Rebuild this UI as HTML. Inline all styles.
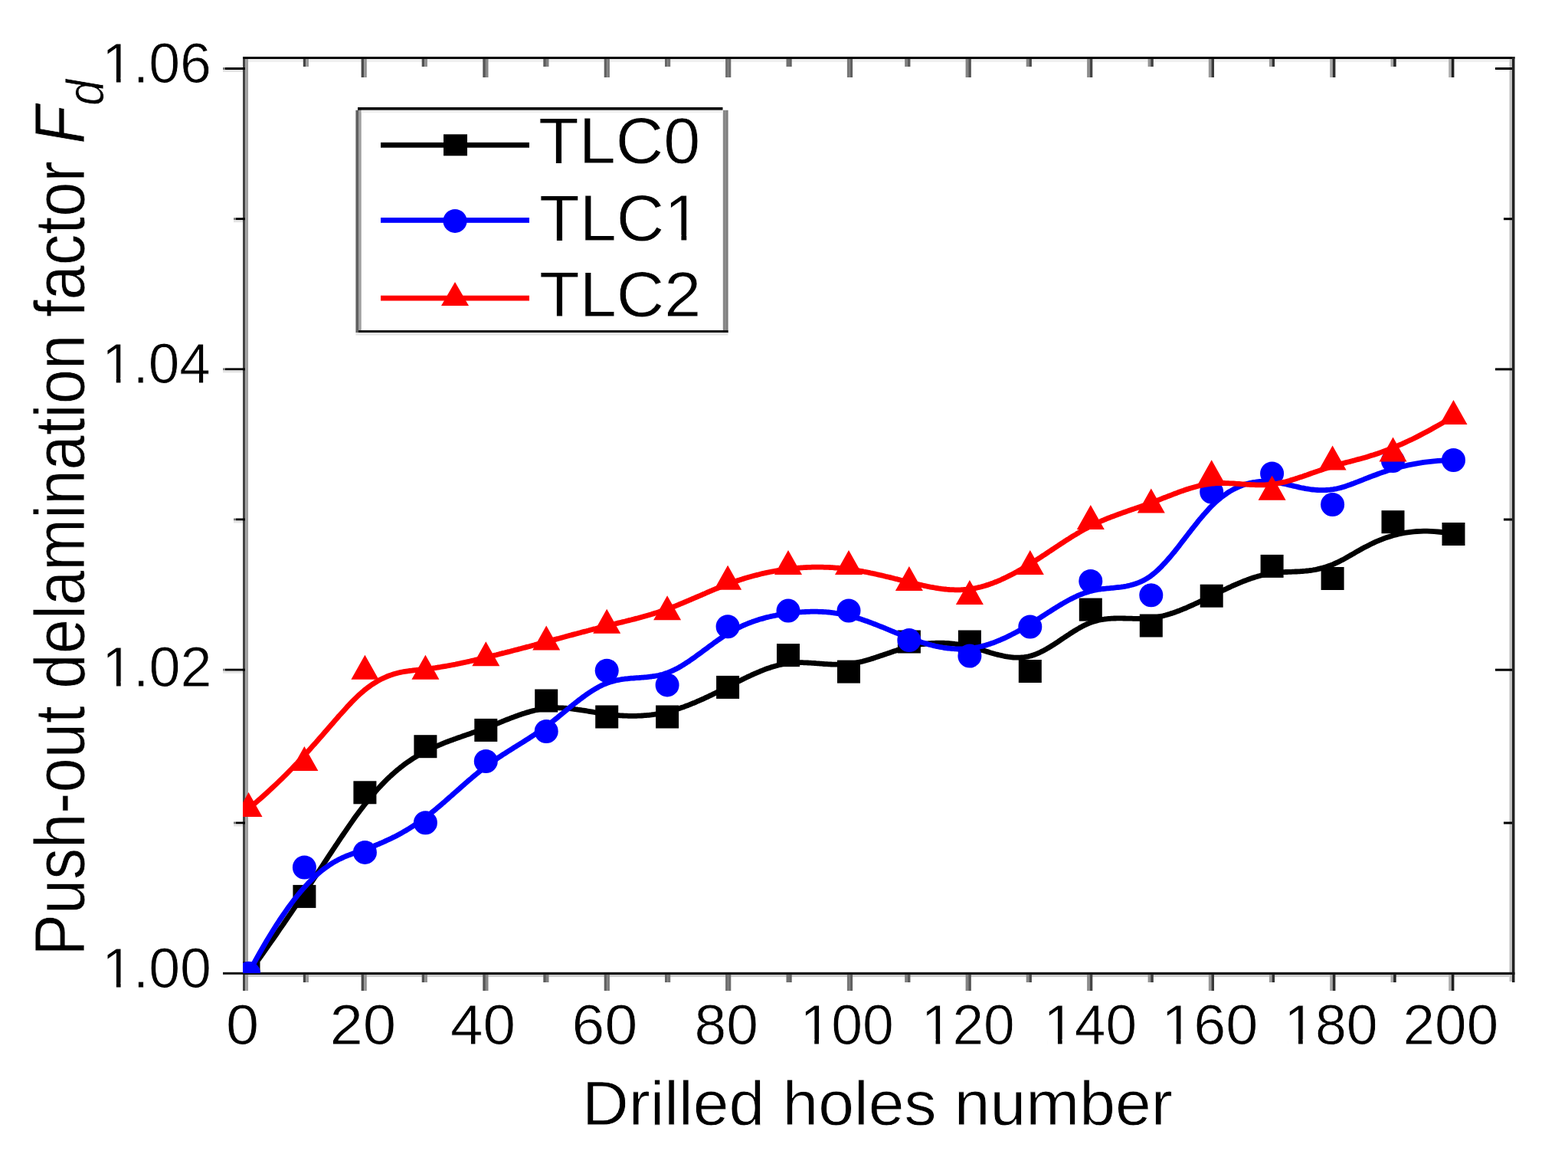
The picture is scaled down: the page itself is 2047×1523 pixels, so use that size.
<!DOCTYPE html>
<html><head><meta charset="utf-8"><title>Push-out delamination factor</title>
<style>
html,body{margin:0;padding:0;background:#fff;}
body{width:2047px;height:1523px;overflow:hidden;}
svg{display:block;}
</style></head>
<body>
<svg width="2047" height="1523" viewBox="0 0 2047 1523">
<rect x="0" y="0" width="2047" height="1523" fill="#fff"/>
<rect x="317" y="74" width="3.2" height="1219" fill="#444"/>
<rect x="320.2" y="77" width="3.8" height="1216" fill="#a0a0a0"/>
<rect x="317" y="74" width="660.5" height="3" fill="#000"/>
<rect x="977" y="74" width="1000.5" height="3" fill="#000"/>
<rect x="324" y="77" width="1646" height="4" fill="#efefef"/>
<rect x="1970.5" y="77" width="3.5" height="1204" fill="#c4c4c4"/>
<rect x="1974" y="74" width="3.5" height="1208" fill="#222"/>
<rect x="317" y="1268.8" width="1660.5" height="3.2" fill="#151515"/>
<rect x="324" y="1272" width="1646.5" height="3" fill="#cdcdcd"/>
<rect x="395.8" y="1272" width="3.6" height="10" fill="#464646"/>
<rect x="399.4" y="1272" width="3.6" height="10" fill="#9a9a9a"/>
<rect x="395.8" y="77" width="3.6" height="10" fill="#464646"/>
<rect x="399.4" y="77" width="3.6" height="10" fill="#9a9a9a"/>
<rect x="471.6" y="1272" width="3.6" height="21" fill="#4b4b4b"/>
<rect x="475.2" y="1272" width="3.6" height="21" fill="#939393"/>
<rect x="471.6" y="77" width="3.6" height="24" fill="#4b4b4b"/>
<rect x="475.2" y="77" width="3.6" height="24" fill="#939393"/>
<rect x="550.7" y="1272" width="3.6" height="10" fill="#515151"/>
<rect x="554.3" y="1272" width="3.6" height="10" fill="#8d8d8d"/>
<rect x="550.7" y="77" width="3.6" height="10" fill="#515151"/>
<rect x="554.3" y="77" width="3.6" height="10" fill="#8d8d8d"/>
<rect x="630.3" y="1272" width="3.6" height="21" fill="#565656"/>
<rect x="633.9" y="1272" width="3.6" height="21" fill="#868686"/>
<rect x="630.3" y="77" width="3.6" height="24" fill="#565656"/>
<rect x="633.9" y="77" width="3.6" height="24" fill="#868686"/>
<rect x="709.3" y="1272" width="3.6" height="10" fill="#5c5c5c"/>
<rect x="712.9" y="1272" width="3.6" height="10" fill="#808080"/>
<rect x="709.3" y="77" width="3.6" height="10" fill="#5c5c5c"/>
<rect x="712.9" y="77" width="3.6" height="10" fill="#808080"/>
<rect x="788.7" y="1272" width="3.6" height="21" fill="#626262"/>
<rect x="792.3" y="1272" width="3.6" height="21" fill="#7a7a7a"/>
<rect x="788.7" y="77" width="3.6" height="24" fill="#626262"/>
<rect x="792.3" y="77" width="3.6" height="24" fill="#7a7a7a"/>
<rect x="868.0" y="1272" width="3.6" height="10" fill="#676767"/>
<rect x="871.6" y="1272" width="3.6" height="10" fill="#737373"/>
<rect x="868.0" y="77" width="3.6" height="10" fill="#676767"/>
<rect x="871.6" y="77" width="3.6" height="10" fill="#737373"/>
<rect x="947.1" y="1272" width="3.6" height="21" fill="#6d6d6d"/>
<rect x="950.7" y="1272" width="3.6" height="21" fill="#6d6d6d"/>
<rect x="947.1" y="77" width="3.6" height="24" fill="#6d6d6d"/>
<rect x="950.7" y="77" width="3.6" height="24" fill="#6d6d6d"/>
<rect x="1026.5" y="1272" width="3.6" height="10" fill="#727272"/>
<rect x="1030.1" y="1272" width="3.6" height="10" fill="#666666"/>
<rect x="1026.5" y="77" width="3.6" height="10" fill="#727272"/>
<rect x="1030.1" y="77" width="3.6" height="10" fill="#666666"/>
<rect x="1105.9" y="1272" width="3.6" height="21" fill="#787878"/>
<rect x="1109.5" y="1272" width="3.6" height="21" fill="#606060"/>
<rect x="1105.9" y="77" width="3.6" height="24" fill="#787878"/>
<rect x="1109.5" y="77" width="3.6" height="24" fill="#606060"/>
<rect x="1181.2" y="1272" width="3.6" height="10" fill="#7e7e7e"/>
<rect x="1184.8" y="1272" width="3.6" height="10" fill="#5a5a5a"/>
<rect x="1181.2" y="77" width="3.6" height="10" fill="#7e7e7e"/>
<rect x="1184.8" y="77" width="3.6" height="10" fill="#5a5a5a"/>
<rect x="1260.6" y="1272" width="3.6" height="21" fill="#838383"/>
<rect x="1264.2" y="1272" width="3.6" height="21" fill="#535353"/>
<rect x="1260.6" y="77" width="3.6" height="24" fill="#838383"/>
<rect x="1264.2" y="77" width="3.6" height="24" fill="#535353"/>
<rect x="1339.7" y="1272" width="3.6" height="10" fill="#898989"/>
<rect x="1343.3" y="1272" width="3.6" height="10" fill="#4d4d4d"/>
<rect x="1339.7" y="77" width="3.6" height="10" fill="#898989"/>
<rect x="1343.3" y="77" width="3.6" height="10" fill="#4d4d4d"/>
<rect x="1419.1" y="1272" width="3.6" height="21" fill="#8e8e8e"/>
<rect x="1422.7" y="1272" width="3.6" height="21" fill="#464646"/>
<rect x="1419.1" y="77" width="3.6" height="24" fill="#8e8e8e"/>
<rect x="1422.7" y="77" width="3.6" height="24" fill="#464646"/>
<rect x="1498.6" y="1272" width="3.6" height="10" fill="#949494"/>
<rect x="1502.2" y="1272" width="3.6" height="10" fill="#404040"/>
<rect x="1498.6" y="77" width="3.6" height="10" fill="#949494"/>
<rect x="1502.2" y="77" width="3.6" height="10" fill="#404040"/>
<rect x="1577.8" y="1272" width="3.6" height="21" fill="#9a9a9a"/>
<rect x="1581.4" y="1272" width="3.6" height="21" fill="#3a3a3a"/>
<rect x="1577.8" y="77" width="3.6" height="24" fill="#9a9a9a"/>
<rect x="1581.4" y="77" width="3.6" height="24" fill="#3a3a3a"/>
<rect x="1656.9" y="1272" width="3.6" height="10" fill="#9f9f9f"/>
<rect x="1660.5" y="1272" width="3.6" height="10" fill="#333333"/>
<rect x="1656.9" y="77" width="3.6" height="10" fill="#9f9f9f"/>
<rect x="1660.5" y="77" width="3.6" height="10" fill="#333333"/>
<rect x="1736.2" y="1272" width="3.6" height="21" fill="#a5a5a5"/>
<rect x="1739.8" y="1272" width="3.6" height="21" fill="#2d2d2d"/>
<rect x="1736.2" y="77" width="3.6" height="24" fill="#a5a5a5"/>
<rect x="1739.8" y="77" width="3.6" height="24" fill="#2d2d2d"/>
<rect x="1815.5" y="1272" width="3.6" height="10" fill="#aaaaaa"/>
<rect x="1819.1" y="1272" width="3.6" height="10" fill="#262626"/>
<rect x="1815.5" y="77" width="3.6" height="10" fill="#aaaaaa"/>
<rect x="1819.1" y="77" width="3.6" height="10" fill="#262626"/>
<rect x="1891.2" y="1272" width="3.6" height="21" fill="#b0b0b0"/>
<rect x="1894.8" y="1272" width="3.6" height="21" fill="#202020"/>
<rect x="1891.2" y="77" width="3.6" height="24" fill="#b0b0b0"/>
<rect x="1894.8" y="77" width="3.6" height="24" fill="#202020"/>
<rect x="291" y="1268.8" width="26" height="3" fill="#111"/>
<rect x="308" y="1072.5" width="12" height="3" fill="#000"/>
<rect x="305" y="1072.5" width="3" height="3" fill="#777"/>
<rect x="305" y="1075.5" width="12" height="3" fill="#e4e4e4"/>
<rect x="1963" y="1072.5" width="11" height="3" fill="#000"/>
<rect x="294" y="872.7" width="26" height="3" fill="#000"/>
<rect x="291" y="872.7" width="3" height="3" fill="#777"/>
<rect x="291" y="875.7" width="26" height="3" fill="#e4e4e4"/>
<rect x="1952" y="872.7" width="22" height="3" fill="#000"/>
<rect x="308" y="676.5" width="12" height="3" fill="#000"/>
<rect x="305" y="676.5" width="3" height="3" fill="#777"/>
<rect x="305" y="679.5" width="12" height="3" fill="#e4e4e4"/>
<rect x="1963" y="676.5" width="11" height="3" fill="#000"/>
<rect x="294" y="480.4" width="26" height="3" fill="#000"/>
<rect x="291" y="480.4" width="3" height="3" fill="#777"/>
<rect x="291" y="483.4" width="26" height="3" fill="#e4e4e4"/>
<rect x="1952" y="480.4" width="22" height="3" fill="#000"/>
<rect x="308" y="284.2" width="12" height="3" fill="#000"/>
<rect x="305" y="284.2" width="3" height="3" fill="#777"/>
<rect x="305" y="287.2" width="12" height="3" fill="#e4e4e4"/>
<rect x="1963" y="284.2" width="11" height="3" fill="#000"/>
<rect x="294" y="88.0" width="26" height="3" fill="#000"/>
<rect x="291" y="88.0" width="3" height="3" fill="#777"/>
<rect x="291" y="91.0" width="26" height="3" fill="#e4e4e4"/>
<rect x="1952" y="88.0" width="22" height="3" fill="#000"/>
<text transform="translate(133.00,1289.40) scale(0.9821,1)" x="0" y="0" font-family="'Liberation Sans', Arial, sans-serif" font-size="74.81" fill="#000" style="font-kerning:none" stroke="#fff" stroke-width="0.8">1.00</text>
<g transform="translate(133.00,1289.40) scale(0.9821,1)" fill="#fff"><rect x="5.11" y="-6.79" width="14.10" height="8.59"/><rect x="25.02" y="-6.79" width="13.70" height="8.59"/></g>
<text transform="translate(133.00,896.20) scale(0.9837,1)" x="0" y="0" font-family="'Liberation Sans', Arial, sans-serif" font-size="74.97" fill="#000" style="font-kerning:none" stroke="#fff" stroke-width="0.8">1.02</text>
<g transform="translate(133.00,896.20) scale(0.9837,1)" fill="#fff"><rect x="5.12" y="-6.80" width="14.13" height="8.60"/><rect x="25.08" y="-6.80" width="13.72" height="8.60"/></g>
<text transform="translate(133.00,499.80) scale(0.9933,1)" x="0" y="0" font-family="'Liberation Sans', Arial, sans-serif" font-size="73.41" fill="#000" style="font-kerning:none" stroke="#fff" stroke-width="0.8">1.04</text>
<g transform="translate(133.00,499.80) scale(0.9933,1)" fill="#fff"><rect x="5.02" y="-6.68" width="13.84" height="8.48"/><rect x="24.55" y="-6.68" width="13.45" height="8.48"/></g>
<text transform="translate(133.00,108.40) scale(0.9821,1)" x="0" y="0" font-family="'Liberation Sans', Arial, sans-serif" font-size="74.81" fill="#000" style="font-kerning:none" stroke="#fff" stroke-width="0.8">1.06</text>
<g transform="translate(133.00,108.40) scale(0.9821,1)" fill="#fff"><rect x="5.11" y="-6.79" width="14.10" height="8.59"/><rect x="25.02" y="-6.79" width="13.70" height="8.59"/></g>
<text transform="translate(295.00,1362.80) scale(1.0365,1)" x="0" y="0" font-family="'Liberation Sans', Arial, sans-serif" font-size="74.81" fill="#000" style="font-kerning:none" stroke="#fff" stroke-width="0.8">0</text>
<text transform="translate(430.40,1362.80) scale(1.0399,1)" x="0" y="0" font-family="'Liberation Sans', Arial, sans-serif" font-size="74.97" fill="#000" style="font-kerning:none" stroke="#fff" stroke-width="0.8">20</text>
<text transform="translate(588.00,1362.80) scale(1.0224,1)" x="0" y="0" font-family="'Liberation Sans', Arial, sans-serif" font-size="74.81" fill="#000" style="font-kerning:none" stroke="#fff" stroke-width="0.8">40</text>
<text transform="translate(746.60,1362.80) scale(1.0291,1)" x="0" y="0" font-family="'Liberation Sans', Arial, sans-serif" font-size="74.81" fill="#000" style="font-kerning:none" stroke="#fff" stroke-width="0.8">60</text>
<text transform="translate(906.60,1362.80) scale(1.0005,1)" x="0" y="0" font-family="'Liberation Sans', Arial, sans-serif" font-size="74.97" fill="#000" style="font-kerning:none" stroke="#fff" stroke-width="0.8">80</text>
<text transform="translate(1044.40,1362.80) scale(0.9808,1)" x="0" y="0" font-family="'Liberation Sans', Arial, sans-serif" font-size="74.81" fill="#000" style="font-kerning:none" stroke="#fff" stroke-width="0.8">100</text>
<g transform="translate(1044.40,1362.80) scale(0.9808,1)" fill="#fff"><rect x="5.11" y="-6.79" width="14.10" height="8.59"/><rect x="25.02" y="-6.79" width="13.70" height="8.59"/></g>
<text transform="translate(1202.80,1362.80) scale(0.9745,1)" x="0" y="0" font-family="'Liberation Sans', Arial, sans-serif" font-size="74.97" fill="#000" style="font-kerning:none" stroke="#fff" stroke-width="0.8">120</text>
<g transform="translate(1202.80,1362.80) scale(0.9745,1)" fill="#fff"><rect x="5.12" y="-6.80" width="14.13" height="8.60"/><rect x="25.08" y="-6.80" width="13.72" height="8.60"/></g>
<text transform="translate(1362.20,1362.80) scale(0.9765,1)" x="0" y="0" font-family="'Liberation Sans', Arial, sans-serif" font-size="74.81" fill="#000" style="font-kerning:none" stroke="#fff" stroke-width="0.8">140</text>
<g transform="translate(1362.20,1362.80) scale(0.9765,1)" fill="#fff"><rect x="5.11" y="-6.79" width="14.10" height="8.59"/><rect x="25.02" y="-6.79" width="13.70" height="8.59"/></g>
<text transform="translate(1516.20,1362.80) scale(1.0111,1)" x="0" y="0" font-family="'Liberation Sans', Arial, sans-serif" font-size="74.81" fill="#000" style="font-kerning:none" stroke="#fff" stroke-width="0.8">160</text>
<g transform="translate(1516.20,1362.80) scale(1.0111,1)" fill="#fff"><rect x="5.11" y="-6.79" width="14.10" height="8.59"/><rect x="25.02" y="-6.79" width="13.70" height="8.59"/></g>
<text transform="translate(1676.20,1362.80) scale(0.9787,1)" x="0" y="0" font-family="'Liberation Sans', Arial, sans-serif" font-size="74.97" fill="#000" style="font-kerning:none" stroke="#fff" stroke-width="0.8">180</text>
<g transform="translate(1676.20,1362.80) scale(0.9787,1)" fill="#fff"><rect x="5.12" y="-6.80" width="14.13" height="8.60"/><rect x="25.08" y="-6.80" width="13.72" height="8.60"/></g>
<text transform="translate(1831.60,1362.80) scale(0.9959,1)" x="0" y="0" font-family="'Liberation Sans', Arial, sans-serif" font-size="74.97" fill="#000" style="font-kerning:none" stroke="#fff" stroke-width="0.8">200</text>
<text transform="translate(760.00,1468.00) scale(1.0253,1)" x="0" y="0" font-family="'Liberation Sans', Arial, sans-serif" font-size="81.98" fill="#000" style="font-kerning:none" stroke="#fff" stroke-width="0.8">Drilled holes number</text>
<text transform="translate(703.00,212.90) scale(1.0164,1)" x="0" y="0" font-family="'Liberation Sans', Arial, sans-serif" font-size="85.04" fill="#000" style="font-kerning:none" stroke="#fff" stroke-width="0.8">TLC0</text>
<text transform="translate(704.00,314.20) scale(1.0164,1)" x="0" y="0" font-family="'Liberation Sans', Arial, sans-serif" font-size="85.04" fill="#000" style="font-kerning:none" stroke="#fff" stroke-width="0.8">TLC1</text>
<g transform="translate(704.00,314.20) scale(1.0164,1)" fill="#fff"><rect x="166.46" y="-7.55" width="15.97" height="9.35"/><rect x="189.15" y="-7.55" width="15.51" height="9.35"/></g>
<text transform="translate(704.00,412.60) scale(1.0254,1)" x="0" y="0" font-family="'Liberation Sans', Arial, sans-serif" font-size="84.29" fill="#000" style="font-kerning:none" stroke="#fff" stroke-width="0.8">TLC2</text>
<text transform="translate(110.25,1247.40) rotate(-90) scale(0.8862,1)" x="0" y="0" font-family="'Liberation Sans', Arial, sans-serif" font-size="91.94" fill="#000" style="font-kerning:none" stroke="#fff" stroke-width="0.8">Push-out delamination factor <tspan font-style="italic">F</tspan><tspan font-style="italic" font-size="69" dy="25">d</tspan></text>
<defs><clipPath id="pc"><rect x="317" y="77" width="1657" height="1193"/></clipPath></defs>
<g clip-path="url(#pc)">
<path d="M324.5,1270.3 L329.4,1263.6 L334.1,1256.9 L338.8,1250.4 L343.4,1244.0 L347.9,1237.6 L352.3,1231.4 L356.6,1225.3 L360.8,1219.2 L364.9,1213.2 L369.0,1207.4 L372.9,1201.6 L376.8,1195.9 L380.6,1190.3 L384.3,1184.9 L388.0,1179.4 L391.5,1174.1 L395.0,1168.9 L398.4,1163.8 L401.8,1158.7 L405.1,1153.8 L408.3,1148.9 L411.5,1144.1 L414.6,1139.4 L417.6,1134.8 L420.6,1130.3 L423.5,1125.8 L426.4,1121.5 L429.2,1117.2 L432.0,1113.0 L434.7,1108.9 L437.4,1104.8 L440.1,1100.9 L442.6,1097.0 L445.2,1093.2 L447.7,1089.5 L450.2,1085.9 L452.6,1082.3 L455.0,1078.8 L457.4,1075.4 L459.7,1072.1 L462.0,1068.8 L464.3,1065.6 L466.6,1062.5 L468.8,1059.5 L471.1,1056.5 L473.3,1053.7 L475.4,1050.8 L477.6,1048.1 L479.7,1045.4 L481.9,1042.8 L484.0,1040.3 L486.1,1037.8 L488.1,1035.4 L490.2,1033.0 L492.2,1030.7 L494.3,1028.5 L496.3,1026.3 L498.3,1024.2 L500.3,1022.1 L502.2,1020.1 L504.2,1018.1 L506.1,1016.2 L508.1,1014.4 L510.0,1012.6 L511.9,1010.9 L513.8,1009.2 L515.7,1007.5 L517.6,1005.9 L519.4,1004.3 L521.3,1002.8 L523.1,1001.3 L525.0,999.9 L526.8,998.5 L528.7,997.1 L530.5,995.8 L532.3,994.5 L534.1,993.3 L535.9,992.1 L537.7,990.9 L539.5,989.7 L541.3,988.6 L543.1,987.5 L544.9,986.4 L546.7,985.4 L548.4,984.4 L550.2,983.4 L552.0,982.4 L553.8,981.5 L555.5,980.6 L557.3,979.7 L559.1,978.8 L560.9,977.9 L562.7,977.1 L564.4,976.2 L566.2,975.4 L568.0,974.6 L569.8,973.8 L571.5,973.1 L573.3,972.3 L575.1,971.6 L576.9,970.8 L578.6,970.1 L580.4,969.4 L582.2,968.7 L584.0,968.0 L585.7,967.3 L587.5,966.7 L589.3,966.0 L591.1,965.4 L592.9,964.7 L594.6,964.1 L596.4,963.4 L598.2,962.8 L600.0,962.2 L601.7,961.6 L603.5,960.9 L605.3,960.3 L607.1,959.7 L608.8,959.1 L610.6,958.5 L612.4,957.9 L614.2,957.3 L615.9,956.6 L617.7,956.0 L619.5,955.4 L621.3,954.8 L623.0,954.2 L624.8,953.5 L626.6,952.9 L628.4,952.2 L630.2,951.6 L631.9,950.9 L633.7,950.3 L635.5,949.6 L637.3,948.9 L639.0,948.2 L640.8,947.5 L642.6,946.8 L644.4,946.1 L646.1,945.4 L647.9,944.7 L649.7,944.0 L651.5,943.3 L653.2,942.6 L655.0,941.9 L656.8,941.1 L658.6,940.4 L660.4,939.7 L662.1,939.0 L663.9,938.3 L665.7,937.6 L667.5,936.9 L669.2,936.3 L671.0,935.6 L672.8,934.9 L674.6,934.3 L676.3,933.7 L678.1,933.0 L679.9,932.4 L681.7,931.8 L683.4,931.2 L685.2,930.7 L687.0,930.1 L688.8,929.6 L690.6,929.1 L692.3,928.6 L694.1,928.1 L695.9,927.6 L697.7,927.2 L699.4,926.8 L701.2,926.4 L703.0,926.0 L704.8,925.7 L706.5,925.3 L708.3,925.1 L710.1,924.8 L711.9,924.6 L713.6,924.4 L715.4,924.2 L717.2,924.0 L719.0,923.9 L720.8,923.8 L722.5,923.8 L724.3,923.7 L726.1,923.7 L727.9,923.7 L729.6,923.8 L731.4,923.8 L733.2,923.9 L735.0,924.0 L736.7,924.1 L738.5,924.2 L740.3,924.4 L742.1,924.5 L743.8,924.7 L745.6,924.9 L747.4,925.1 L749.2,925.3 L750.9,925.6 L752.7,925.8 L754.5,926.1 L756.3,926.3 L758.1,926.6 L759.8,926.9 L761.6,927.1 L763.4,927.4 L765.2,927.7 L766.9,928.0 L768.7,928.3 L770.5,928.6 L772.3,928.9 L774.0,929.2 L775.8,929.5 L777.6,929.8 L779.4,930.1 L781.1,930.4 L782.9,930.6 L784.7,930.9 L786.5,931.2 L788.3,931.5 L790.0,931.7 L791.8,931.9 L793.6,932.2 L795.4,932.4 L797.1,932.6 L798.9,932.8 L800.7,933.0 L802.5,933.2 L804.2,933.3 L806.0,933.5 L807.8,933.6 L809.6,933.8 L811.3,933.9 L813.1,934.0 L814.9,934.1 L816.7,934.2 L818.5,934.2 L820.2,934.3 L822.0,934.3 L823.8,934.3 L825.6,934.3 L827.3,934.3 L829.1,934.3 L830.9,934.3 L832.7,934.2 L834.4,934.2 L836.2,934.1 L838.0,934.0 L839.8,933.9 L841.5,933.7 L843.3,933.6 L845.1,933.4 L846.9,933.3 L848.6,933.1 L850.4,932.9 L852.2,932.6 L854.0,932.4 L855.8,932.1 L857.5,931.8 L859.3,931.5 L861.1,931.2 L862.9,930.9 L864.6,930.5 L866.4,930.2 L868.2,929.8 L870.0,929.4 L871.7,928.9 L873.5,928.5 L875.3,928.0 L877.1,927.5 L878.8,927.0 L880.6,926.5 L882.4,925.9 L884.2,925.4 L886.0,924.8 L887.7,924.2 L889.5,923.6 L891.3,923.0 L893.1,922.4 L894.8,921.7 L896.6,921.0 L898.4,920.4 L900.2,919.7 L901.9,919.0 L903.7,918.2 L905.5,917.5 L907.3,916.8 L909.0,916.0 L910.8,915.2 L912.6,914.5 L914.4,913.7 L916.2,912.9 L917.9,912.1 L919.7,911.3 L921.5,910.4 L923.3,909.6 L925.0,908.8 L926.8,907.9 L928.6,907.1 L930.4,906.2 L932.1,905.4 L933.9,904.5 L935.7,903.6 L937.5,902.7 L939.2,901.8 L941.0,901.0 L942.8,900.1 L944.6,899.2 L946.3,898.3 L948.1,897.4 L949.9,896.5 L951.7,895.6 L953.5,894.7 L955.2,893.7 L957.0,892.8 L958.8,891.9 L960.6,891.0 L962.3,890.1 L964.1,889.2 L965.9,888.4 L967.7,887.5 L969.4,886.6 L971.2,885.7 L973.0,884.8 L974.8,884.0 L976.5,883.1 L978.3,882.3 L980.1,881.5 L981.9,880.6 L983.7,879.8 L985.4,879.0 L987.2,878.3 L989.0,877.5 L990.8,876.8 L992.5,876.0 L994.3,875.3 L996.1,874.6 L997.9,873.9 L999.6,873.2 L1001.4,872.6 L1003.2,872.0 L1005.0,871.4 L1006.7,870.8 L1008.5,870.2 L1010.3,869.7 L1012.1,869.2 L1013.9,868.7 L1015.6,868.2 L1017.4,867.8 L1019.2,867.4 L1021.0,867.0 L1022.7,866.7 L1024.5,866.3 L1026.3,866.0 L1028.1,865.8 L1029.8,865.6 L1031.6,865.4 L1033.4,865.2 L1035.2,865.0 L1036.9,864.9 L1038.7,864.8 L1040.5,864.8 L1042.3,864.7 L1044.1,864.7 L1045.8,864.7 L1047.6,864.7 L1049.4,864.8 L1051.2,864.8 L1052.9,864.9 L1054.7,865.0 L1056.5,865.1 L1058.3,865.2 L1060.0,865.3 L1061.8,865.4 L1063.6,865.5 L1065.4,865.7 L1067.1,865.8 L1068.9,865.9 L1070.7,866.1 L1072.5,866.2 L1074.2,866.3 L1076.0,866.5 L1077.8,866.6 L1079.6,866.7 L1081.4,866.8 L1083.1,866.9 L1084.9,867.0 L1086.7,867.1 L1088.5,867.1 L1090.2,867.2 L1092.0,867.2 L1093.8,867.2 L1095.6,867.2 L1097.3,867.2 L1099.1,867.1 L1100.9,867.1 L1102.7,867.0 L1104.4,866.8 L1106.2,866.7 L1108.0,866.5 L1109.8,866.3 L1111.6,866.0 L1113.3,865.8 L1115.1,865.5 L1116.9,865.2 L1118.7,864.8 L1120.4,864.4 L1122.2,864.0 L1124.0,863.6 L1125.8,863.2 L1127.5,862.7 L1129.3,862.2 L1131.1,861.7 L1132.9,861.2 L1134.6,860.7 L1136.4,860.2 L1138.2,859.6 L1140.0,859.1 L1141.8,858.5 L1143.5,857.9 L1145.3,857.3 L1147.1,856.7 L1148.9,856.1 L1150.6,855.5 L1152.4,854.9 L1154.2,854.3 L1156.0,853.7 L1157.7,853.1 L1159.5,852.5 L1161.3,851.9 L1163.1,851.3 L1164.8,850.7 L1166.6,850.1 L1168.4,849.5 L1170.2,848.9 L1171.9,848.3 L1173.7,847.8 L1175.5,847.2 L1177.3,846.7 L1179.1,846.2 L1180.8,845.6 L1182.6,845.1 L1184.4,844.7 L1186.2,844.2 L1187.9,843.8 L1189.7,843.4 L1191.5,843.0 L1193.3,842.6 L1195.0,842.2 L1196.8,841.9 L1198.6,841.6 L1200.4,841.3 L1202.1,841.0 L1203.9,840.7 L1205.7,840.5 L1207.5,840.3 L1209.3,840.1 L1211.0,839.9 L1212.8,839.7 L1214.6,839.6 L1216.4,839.4 L1218.1,839.3 L1219.9,839.3 L1221.7,839.2 L1223.5,839.1 L1225.2,839.1 L1227.0,839.1 L1228.8,839.1 L1230.6,839.2 L1232.3,839.2 L1234.1,839.3 L1235.9,839.4 L1237.7,839.5 L1239.5,839.6 L1241.2,839.8 L1243.0,840.0 L1244.8,840.1 L1246.6,840.4 L1248.3,840.6 L1250.1,840.8 L1251.9,841.1 L1253.7,841.4 L1255.4,841.7 L1257.2,842.0 L1259.0,842.4 L1260.8,842.7 L1262.5,843.1 L1264.3,843.5 L1266.1,844.0 L1267.9,844.4 L1269.7,844.9 L1271.4,845.3 L1273.2,845.8 L1275.0,846.3 L1276.8,846.9 L1278.5,847.4 L1280.3,847.9 L1282.1,848.4 L1283.9,849.0 L1285.6,849.5 L1287.4,850.1 L1289.2,850.6 L1291.0,851.1 L1292.7,851.7 L1294.5,852.2 L1296.3,852.7 L1298.1,853.2 L1299.8,853.7 L1301.6,854.1 L1303.4,854.6 L1305.2,855.0 L1307.0,855.4 L1308.7,855.8 L1310.5,856.2 L1312.3,856.6 L1314.1,856.9 L1315.8,857.2 L1317.6,857.4 L1319.4,857.6 L1321.2,857.8 L1322.9,858.0 L1324.7,858.1 L1326.5,858.2 L1328.3,858.2 L1330.0,858.2 L1331.8,858.1 L1333.6,858.0 L1335.4,857.9 L1337.2,857.7 L1338.9,857.4 L1340.7,857.1 L1342.5,856.8 L1344.3,856.3 L1346.0,855.9 L1347.8,855.3 L1349.6,854.7 L1351.4,854.1 L1353.1,853.4 L1354.9,852.6 L1356.7,851.8 L1358.5,851.0 L1360.2,850.1 L1362.0,849.2 L1363.8,848.2 L1365.6,847.3 L1367.4,846.2 L1369.1,845.2 L1370.9,844.1 L1372.7,843.0 L1374.5,841.9 L1376.2,840.8 L1378.0,839.6 L1379.8,838.5 L1381.6,837.3 L1383.3,836.1 L1385.1,834.9 L1386.9,833.7 L1388.7,832.5 L1390.4,831.3 L1392.2,830.1 L1394.0,829.0 L1395.8,827.8 L1397.5,826.6 L1399.3,825.5 L1401.1,824.4 L1402.9,823.2 L1404.7,822.2 L1406.4,821.1 L1408.2,820.1 L1410.0,819.0 L1411.8,818.1 L1413.5,817.1 L1415.3,816.2 L1417.1,815.4 L1418.9,814.5 L1420.6,813.8 L1422.4,813.0 L1424.2,812.3 L1426.0,811.7 L1427.7,811.1 L1429.5,810.6 L1431.3,810.1 L1433.1,809.6 L1434.9,809.2 L1436.6,808.9 L1438.4,808.5 L1440.2,808.3 L1442.0,808.0 L1443.7,807.8 L1445.5,807.6 L1447.3,807.4 L1449.1,807.3 L1450.8,807.2 L1452.6,807.1 L1454.4,807.0 L1456.2,807.0 L1457.9,806.9 L1459.7,806.9 L1461.5,806.9 L1463.3,806.9 L1465.1,806.9 L1466.8,807.0 L1468.6,807.0 L1470.4,807.1 L1472.2,807.1 L1473.9,807.1 L1475.7,807.2 L1477.5,807.2 L1479.3,807.3 L1481.0,807.3 L1482.8,807.3 L1484.6,807.4 L1486.4,807.4 L1488.1,807.4 L1489.9,807.3 L1491.7,807.3 L1493.5,807.2 L1495.2,807.2 L1497.0,807.1 L1498.8,806.9 L1500.6,806.8 L1502.4,806.6 L1504.1,806.4 L1505.9,806.1 L1507.7,805.9 L1509.5,805.6 L1511.2,805.3 L1513.0,804.9 L1514.8,804.5 L1516.6,804.1 L1518.3,803.7 L1520.1,803.2 L1521.9,802.8 L1523.7,802.3 L1525.4,801.7 L1527.2,801.2 L1529.0,800.6 L1530.8,800.1 L1532.6,799.5 L1534.3,798.8 L1536.1,798.2 L1537.9,797.5 L1539.7,796.9 L1541.4,796.2 L1543.2,795.5 L1545.0,794.7 L1546.8,794.0 L1548.5,793.3 L1550.3,792.5 L1552.1,791.7 L1553.9,790.9 L1555.6,790.1 L1557.4,789.3 L1559.2,788.5 L1561.0,787.7 L1562.8,786.9 L1564.5,786.0 L1566.3,785.2 L1568.1,784.3 L1569.9,783.5 L1571.6,782.6 L1573.4,781.8 L1575.2,780.9 L1577.0,780.0 L1578.7,779.2 L1580.5,778.3 L1582.3,777.4 L1584.1,776.5 L1585.8,775.7 L1587.6,774.8 L1589.4,773.9 L1591.2,773.1 L1593.0,772.2 L1594.7,771.3 L1596.5,770.5 L1598.3,769.6 L1600.1,768.8 L1601.8,768.0 L1603.6,767.1 L1605.4,766.3 L1607.2,765.5 L1608.9,764.7 L1610.7,763.9 L1612.5,763.1 L1614.3,762.3 L1616.0,761.6 L1617.8,760.8 L1619.6,760.1 L1621.4,759.4 L1623.1,758.7 L1624.9,758.0 L1626.7,757.3 L1628.5,756.6 L1630.3,756.0 L1632.0,755.3 L1633.8,754.7 L1635.6,754.1 L1637.4,753.6 L1639.1,753.0 L1640.9,752.5 L1642.7,751.9 L1644.5,751.5 L1646.2,751.0 L1648.0,750.5 L1649.8,750.1 L1651.6,749.7 L1653.3,749.3 L1655.1,749.0 L1656.9,748.7 L1658.7,748.4 L1660.5,748.1 L1662.2,747.8 L1664.0,747.6 L1665.8,747.4 L1667.6,747.2 L1669.3,747.1 L1671.1,747.0 L1672.9,746.8 L1674.7,746.7 L1676.5,746.6 L1678.3,746.5 L1680.1,746.5 L1681.9,746.4 L1683.7,746.3 L1685.5,746.3 L1687.3,746.2 L1689.2,746.1 L1691.0,746.0 L1692.9,746.0 L1694.7,745.9 L1696.6,745.8 L1698.4,745.6 L1700.3,745.5 L1702.2,745.3 L1704.1,745.2 L1706.0,745.0 L1707.9,744.8 L1709.9,744.5 L1711.8,744.3 L1713.8,744.0 L1715.7,743.6 L1717.7,743.3 L1719.7,742.9 L1721.7,742.4 L1723.8,741.9 L1725.8,741.4 L1727.9,740.8 L1729.9,740.2 L1732.0,739.6 L1734.1,738.8 L1736.3,738.1 L1738.4,737.3 L1740.6,736.4 L1742.7,735.4 L1744.9,734.4 L1747.2,733.4 L1749.4,732.3 L1751.7,731.1 L1754.0,729.9 L1756.3,728.6 L1758.6,727.3 L1761.0,725.9 L1763.4,724.5 L1765.9,723.1 L1768.4,721.7 L1770.9,720.2 L1773.5,718.7 L1776.1,717.3 L1778.7,715.8 L1781.5,714.3 L1784.2,712.9 L1787.1,711.4 L1789.9,710.0 L1792.9,708.6 L1795.9,707.2 L1799.0,705.9 L1802.1,704.6 L1805.3,703.3 L1808.6,702.1 L1811.9,701.0 L1815.3,699.9 L1818.8,698.8 L1822.4,697.9 L1826.0,697.0 L1829.8,696.2 L1833.6,695.4 L1837.5,694.8 L1841.5,694.3 L1845.6,693.8 L1849.8,693.5 L1854.1,693.3 L1858.5,693.2 L1863.0,693.2 L1867.6,693.3 L1872.3,693.6 L1877.1,694.0 L1882.0,694.5 L1887.1,695.2 L1892.2,696.0 L1897.5,697.0" fill="none" stroke="#000" stroke-width="6.8" stroke-linejoin="round"/>
<rect x="309.5" y="1255.3" width="30" height="30" fill="#000"/>
<rect x="382.4" y="1154.9" width="30" height="30" fill="#000"/>
<rect x="461.4" y="1019.3" width="30" height="30" fill="#000"/>
<rect x="540.4" y="959.2" width="30" height="30" fill="#000"/>
<rect x="619.3" y="937.9" width="30" height="30" fill="#000"/>
<rect x="698.2" y="899.5" width="30" height="30" fill="#000"/>
<rect x="777.2" y="920.5" width="30" height="30" fill="#000"/>
<rect x="856.1" y="920.5" width="30" height="30" fill="#000"/>
<rect x="935.1" y="881.9" width="30" height="30" fill="#000"/>
<rect x="1014.0" y="840.1" width="30" height="30" fill="#000"/>
<rect x="1093.0" y="861.6" width="30" height="30" fill="#000"/>
<rect x="1171.9" y="822.5" width="30" height="30" fill="#000"/>
<rect x="1250.9" y="822.5" width="30" height="30" fill="#000"/>
<rect x="1329.8" y="861.0" width="30" height="30" fill="#000"/>
<rect x="1408.8" y="780.6" width="30" height="30" fill="#000"/>
<rect x="1487.8" y="801.5" width="30" height="30" fill="#000"/>
<rect x="1566.7" y="762.7" width="30" height="30" fill="#000"/>
<rect x="1645.6" y="723.9" width="30" height="30" fill="#000"/>
<rect x="1724.6" y="740.0" width="30" height="30" fill="#000"/>
<rect x="1803.5" y="666.2" width="30" height="30" fill="#000"/>
<rect x="1882.5" y="682.0" width="30" height="30" fill="#000"/>
<path d="M324.5,1270.3 L329.4,1261.2 L334.1,1252.4 L338.8,1244.0 L343.4,1236.0 L347.9,1228.3 L352.3,1221.0 L356.6,1214.0 L360.8,1207.3 L364.9,1201.0 L369.0,1195.0 L372.9,1189.3 L376.8,1183.8 L380.6,1178.7 L384.3,1173.8 L388.0,1169.2 L391.5,1164.8 L395.0,1160.7 L398.4,1156.9 L401.8,1153.2 L405.1,1149.8 L408.3,1146.6 L411.5,1143.6 L414.6,1140.8 L417.6,1138.2 L420.6,1135.7 L423.5,1133.5 L426.4,1131.4 L429.2,1129.4 L432.0,1127.6 L434.7,1125.9 L437.4,1124.3 L440.1,1122.9 L442.6,1121.5 L445.2,1120.3 L447.7,1119.1 L450.2,1118.0 L452.6,1117.0 L455.0,1116.1 L457.4,1115.2 L459.7,1114.3 L462.0,1113.5 L464.3,1112.7 L466.6,1112.0 L468.8,1111.2 L471.1,1110.4 L473.3,1109.7 L475.4,1108.9 L477.6,1108.1 L479.7,1107.3 L481.9,1106.5 L484.0,1105.7 L486.1,1104.9 L488.1,1104.1 L490.2,1103.3 L492.2,1102.4 L494.3,1101.6 L496.3,1100.7 L498.3,1099.9 L500.3,1099.0 L502.2,1098.1 L504.2,1097.2 L506.1,1096.3 L508.1,1095.4 L510.0,1094.5 L511.9,1093.6 L513.8,1092.6 L515.7,1091.7 L517.6,1090.7 L519.4,1089.7 L521.3,1088.7 L523.1,1087.7 L525.0,1086.7 L526.8,1085.6 L528.7,1084.6 L530.5,1083.5 L532.3,1082.4 L534.1,1081.3 L535.9,1080.2 L537.7,1079.0 L539.5,1077.9 L541.3,1076.7 L543.1,1075.5 L544.9,1074.3 L546.7,1073.1 L548.4,1071.8 L550.2,1070.6 L552.0,1069.3 L553.8,1068.0 L555.5,1066.6 L557.3,1065.3 L559.1,1063.9 L560.9,1062.5 L562.7,1061.1 L564.4,1059.7 L566.2,1058.3 L568.0,1056.8 L569.8,1055.3 L571.5,1053.8 L573.3,1052.3 L575.1,1050.8 L576.9,1049.3 L578.6,1047.8 L580.4,1046.3 L582.2,1044.7 L584.0,1043.2 L585.7,1041.6 L587.5,1040.0 L589.3,1038.5 L591.1,1036.9 L592.9,1035.3 L594.6,1033.8 L596.4,1032.2 L598.2,1030.6 L600.0,1029.1 L601.7,1027.5 L603.5,1025.9 L605.3,1024.4 L607.1,1022.8 L608.8,1021.3 L610.6,1019.7 L612.4,1018.2 L614.2,1016.7 L615.9,1015.2 L617.7,1013.7 L619.5,1012.2 L621.3,1010.7 L623.0,1009.2 L624.8,1007.8 L626.6,1006.4 L628.4,1004.9 L630.2,1003.6 L631.9,1002.2 L633.7,1000.8 L635.5,999.5 L637.3,998.2 L639.0,996.9 L640.8,995.6 L642.6,994.3 L644.4,993.1 L646.1,991.8 L647.9,990.6 L649.7,989.4 L651.5,988.2 L653.2,987.1 L655.0,985.9 L656.8,984.7 L658.6,983.6 L660.4,982.5 L662.1,981.3 L663.9,980.2 L665.7,979.1 L667.5,978.0 L669.2,976.9 L671.0,975.7 L672.8,974.6 L674.6,973.5 L676.3,972.4 L678.1,971.3 L679.9,970.2 L681.7,969.1 L683.4,968.0 L685.2,966.9 L687.0,965.7 L688.8,964.6 L690.6,963.5 L692.3,962.3 L694.1,961.1 L695.9,960.0 L697.7,958.8 L699.4,957.6 L701.2,956.4 L703.0,955.2 L704.8,953.9 L706.5,952.7 L708.3,951.4 L710.1,950.1 L711.9,948.8 L713.6,947.5 L715.4,946.2 L717.2,944.8 L719.0,943.4 L720.8,942.0 L722.5,940.6 L724.3,939.2 L726.1,937.8 L727.9,936.3 L729.6,934.9 L731.4,933.4 L733.2,932.0 L735.0,930.5 L736.7,929.0 L738.5,927.6 L740.3,926.1 L742.1,924.7 L743.8,923.2 L745.6,921.8 L747.4,920.3 L749.2,918.9 L750.9,917.5 L752.7,916.1 L754.5,914.7 L756.3,913.3 L758.1,912.0 L759.8,910.7 L761.6,909.3 L763.4,908.1 L765.2,906.8 L766.9,905.5 L768.7,904.3 L770.5,903.2 L772.3,902.0 L774.0,900.9 L775.8,899.8 L777.6,898.7 L779.4,897.7 L781.1,896.7 L782.9,895.8 L784.7,894.9 L786.5,894.0 L788.3,893.2 L790.0,892.5 L791.8,891.8 L793.6,891.1 L795.4,890.5 L797.1,889.9 L798.9,889.4 L800.7,888.9 L802.5,888.4 L804.2,888.0 L806.0,887.6 L807.8,887.3 L809.6,887.0 L811.3,886.7 L813.1,886.4 L814.9,886.2 L816.7,885.9 L818.5,885.8 L820.2,885.6 L822.0,885.4 L823.8,885.2 L825.6,885.1 L827.3,885.0 L829.1,884.8 L830.9,884.7 L832.7,884.6 L834.4,884.5 L836.2,884.3 L838.0,884.2 L839.8,884.1 L841.5,883.9 L843.3,883.8 L845.1,883.6 L846.9,883.4 L848.6,883.2 L850.4,883.0 L852.2,882.7 L854.0,882.5 L855.8,882.2 L857.5,881.8 L859.3,881.5 L861.1,881.1 L862.9,880.6 L864.6,880.2 L866.4,879.7 L868.2,879.1 L870.0,878.5 L871.7,877.9 L873.5,877.2 L875.3,876.5 L877.1,875.7 L878.8,874.9 L880.6,874.0 L882.4,873.1 L884.2,872.2 L886.0,871.2 L887.7,870.2 L889.5,869.2 L891.3,868.1 L893.1,867.0 L894.8,865.9 L896.6,864.7 L898.4,863.6 L900.2,862.4 L901.9,861.1 L903.7,859.9 L905.5,858.7 L907.3,857.4 L909.0,856.1 L910.8,854.8 L912.6,853.5 L914.4,852.2 L916.2,850.9 L917.9,849.6 L919.7,848.3 L921.5,847.0 L923.3,845.7 L925.0,844.3 L926.8,843.0 L928.6,841.7 L930.4,840.4 L932.1,839.1 L933.9,837.8 L935.7,836.6 L937.5,835.3 L939.2,834.1 L941.0,832.9 L942.8,831.7 L944.6,830.5 L946.3,829.3 L948.1,828.2 L949.9,827.1 L951.7,826.0 L953.5,825.0 L955.2,823.9 L957.0,822.9 L958.8,822.0 L960.6,821.0 L962.3,820.1 L964.1,819.2 L965.9,818.4 L967.7,817.5 L969.4,816.7 L971.2,815.9 L973.0,815.1 L974.8,814.4 L976.5,813.7 L978.3,812.9 L980.1,812.3 L981.9,811.6 L983.7,811.0 L985.4,810.4 L987.2,809.8 L989.0,809.2 L990.8,808.6 L992.5,808.1 L994.3,807.6 L996.1,807.1 L997.9,806.6 L999.6,806.1 L1001.4,805.6 L1003.2,805.2 L1005.0,804.8 L1006.7,804.4 L1008.5,804.0 L1010.3,803.6 L1012.1,803.3 L1013.9,802.9 L1015.6,802.6 L1017.4,802.3 L1019.2,802.0 L1021.0,801.7 L1022.7,801.4 L1024.5,801.1 L1026.3,800.9 L1028.1,800.6 L1029.8,800.4 L1031.6,800.2 L1033.4,800.0 L1035.2,799.8 L1036.9,799.6 L1038.7,799.4 L1040.5,799.2 L1042.3,799.1 L1044.1,798.9 L1045.8,798.8 L1047.6,798.7 L1049.4,798.6 L1051.2,798.5 L1052.9,798.4 L1054.7,798.3 L1056.5,798.3 L1058.3,798.2 L1060.0,798.2 L1061.8,798.2 L1063.6,798.2 L1065.4,798.2 L1067.1,798.2 L1068.9,798.3 L1070.7,798.4 L1072.5,798.4 L1074.2,798.5 L1076.0,798.6 L1077.8,798.7 L1079.6,798.9 L1081.4,799.0 L1083.1,799.2 L1084.9,799.4 L1086.7,799.6 L1088.5,799.8 L1090.2,800.1 L1092.0,800.3 L1093.8,800.6 L1095.6,800.9 L1097.3,801.2 L1099.1,801.5 L1100.9,801.9 L1102.7,802.2 L1104.4,802.6 L1106.2,803.0 L1108.0,803.4 L1109.8,803.9 L1111.6,804.4 L1113.3,804.8 L1115.1,805.3 L1116.9,805.8 L1118.7,806.4 L1120.4,806.9 L1122.2,807.5 L1124.0,808.1 L1125.8,808.7 L1127.5,809.3 L1129.3,809.9 L1131.1,810.5 L1132.9,811.1 L1134.6,811.8 L1136.4,812.4 L1138.2,813.1 L1140.0,813.8 L1141.8,814.5 L1143.5,815.2 L1145.3,815.9 L1147.1,816.6 L1148.9,817.3 L1150.6,818.0 L1152.4,818.7 L1154.2,819.4 L1156.0,820.2 L1157.7,820.9 L1159.5,821.6 L1161.3,822.3 L1163.1,823.1 L1164.8,823.8 L1166.6,824.5 L1168.4,825.3 L1170.2,826.0 L1171.9,826.7 L1173.7,827.4 L1175.5,828.1 L1177.3,828.8 L1179.1,829.5 L1180.8,830.2 L1182.6,830.9 L1184.4,831.6 L1186.2,832.3 L1187.9,833.0 L1189.7,833.6 L1191.5,834.3 L1193.3,834.9 L1195.0,835.5 L1196.8,836.1 L1198.6,836.7 L1200.4,837.3 L1202.1,837.9 L1203.9,838.5 L1205.7,839.0 L1207.5,839.5 L1209.3,840.1 L1211.0,840.6 L1212.8,841.1 L1214.6,841.5 L1216.4,842.0 L1218.1,842.4 L1219.9,842.9 L1221.7,843.3 L1223.5,843.6 L1225.2,844.0 L1227.0,844.4 L1228.8,844.7 L1230.6,845.0 L1232.3,845.3 L1234.1,845.6 L1235.9,845.8 L1237.7,846.0 L1239.5,846.2 L1241.2,846.4 L1243.0,846.6 L1244.8,846.7 L1246.6,846.8 L1248.3,846.9 L1250.1,847.0 L1251.9,847.0 L1253.7,847.0 L1255.4,847.0 L1257.2,847.0 L1259.0,846.9 L1260.8,846.8 L1262.5,846.7 L1264.3,846.5 L1266.1,846.3 L1267.9,846.1 L1269.7,845.8 L1271.4,845.6 L1273.2,845.3 L1275.0,844.9 L1276.8,844.6 L1278.5,844.2 L1280.3,843.8 L1282.1,843.4 L1283.9,842.9 L1285.6,842.4 L1287.4,841.9 L1289.2,841.3 L1291.0,840.8 L1292.7,840.2 L1294.5,839.6 L1296.3,839.0 L1298.1,838.3 L1299.8,837.6 L1301.6,836.9 L1303.4,836.2 L1305.2,835.5 L1307.0,834.7 L1308.7,833.9 L1310.5,833.1 L1312.3,832.3 L1314.1,831.5 L1315.8,830.6 L1317.6,829.7 L1319.4,828.9 L1321.2,827.9 L1322.9,827.0 L1324.7,826.1 L1326.5,825.1 L1328.3,824.2 L1330.0,823.2 L1331.8,822.2 L1333.6,821.2 L1335.4,820.1 L1337.2,819.1 L1338.9,818.0 L1340.7,817.0 L1342.5,815.9 L1344.3,814.8 L1346.0,813.7 L1347.8,812.6 L1349.6,811.5 L1351.4,810.3 L1353.1,809.2 L1354.9,808.1 L1356.7,806.9 L1358.5,805.8 L1360.2,804.6 L1362.0,803.5 L1363.8,802.3 L1365.6,801.2 L1367.4,800.0 L1369.1,798.9 L1370.9,797.8 L1372.7,796.6 L1374.5,795.5 L1376.2,794.4 L1378.0,793.3 L1379.8,792.2 L1381.6,791.1 L1383.3,790.0 L1385.1,789.0 L1386.9,787.9 L1388.7,786.9 L1390.4,785.9 L1392.2,784.9 L1394.0,783.9 L1395.8,782.9 L1397.5,782.0 L1399.3,781.1 L1401.1,780.2 L1402.9,779.3 L1404.7,778.5 L1406.4,777.7 L1408.2,776.9 L1410.0,776.2 L1411.8,775.5 L1413.5,774.8 L1415.3,774.1 L1417.1,773.5 L1418.9,772.9 L1420.6,772.4 L1422.4,771.8 L1424.2,771.4 L1426.0,770.9 L1427.7,770.5 L1429.5,770.2 L1431.3,769.8 L1433.1,769.5 L1434.9,769.2 L1436.6,769.0 L1438.4,768.7 L1440.2,768.5 L1442.0,768.3 L1443.7,768.1 L1445.5,767.9 L1447.3,767.8 L1449.1,767.6 L1450.8,767.4 L1452.6,767.3 L1454.4,767.1 L1456.2,766.9 L1457.9,766.7 L1459.7,766.5 L1461.5,766.3 L1463.3,766.1 L1465.1,765.8 L1466.8,765.6 L1468.6,765.3 L1470.4,765.0 L1472.2,764.6 L1473.9,764.2 L1475.7,763.8 L1477.5,763.3 L1479.3,762.9 L1481.0,762.3 L1482.8,761.7 L1484.6,761.1 L1486.4,760.4 L1488.1,759.7 L1489.9,758.9 L1491.7,758.0 L1493.5,757.1 L1495.2,756.2 L1497.0,755.1 L1498.8,754.0 L1500.6,752.8 L1502.4,751.6 L1504.1,750.2 L1505.9,748.8 L1507.7,747.4 L1509.5,745.8 L1511.2,744.2 L1513.0,742.5 L1514.8,740.8 L1516.6,739.0 L1518.3,737.1 L1520.1,735.2 L1521.9,733.3 L1523.7,731.3 L1525.4,729.3 L1527.2,727.2 L1529.0,725.1 L1530.8,722.9 L1532.6,720.8 L1534.3,718.6 L1536.1,716.3 L1537.9,714.1 L1539.7,711.8 L1541.4,709.5 L1543.2,707.2 L1545.0,704.9 L1546.8,702.6 L1548.5,700.3 L1550.3,698.0 L1552.1,695.7 L1553.9,693.4 L1555.6,691.1 L1557.4,688.8 L1559.2,686.6 L1561.0,684.3 L1562.8,682.1 L1564.5,679.9 L1566.3,677.7 L1568.1,675.6 L1569.9,673.5 L1571.6,671.4 L1573.4,669.4 L1575.2,667.4 L1577.0,665.4 L1578.7,663.5 L1580.5,661.7 L1582.3,659.9 L1584.1,658.1 L1585.8,656.4 L1587.6,654.8 L1589.4,653.2 L1591.2,651.7 L1593.0,650.3 L1594.7,648.8 L1596.5,647.5 L1598.3,646.2 L1600.1,644.9 L1601.8,643.7 L1603.6,642.5 L1605.4,641.4 L1607.2,640.4 L1608.9,639.4 L1610.7,638.4 L1612.5,637.5 L1614.3,636.6 L1616.0,635.8 L1617.8,635.0 L1619.6,634.3 L1621.4,633.6 L1623.1,632.9 L1624.9,632.3 L1626.7,631.8 L1628.5,631.3 L1630.3,630.8 L1632.0,630.4 L1633.8,630.0 L1635.6,629.6 L1637.4,629.3 L1639.1,629.1 L1640.9,628.8 L1642.7,628.6 L1644.5,628.5 L1646.2,628.4 L1648.0,628.3 L1649.8,628.2 L1651.6,628.2 L1653.3,628.3 L1655.1,628.3 L1656.9,628.4 L1658.7,628.6 L1660.5,628.7 L1662.2,628.9 L1664.0,629.2 L1665.8,629.4 L1667.6,629.7 L1669.3,630.0 L1671.1,630.3 L1672.9,630.7 L1674.7,631.1 L1676.5,631.4 L1678.3,631.8 L1680.1,632.2 L1681.9,632.7 L1683.7,633.1 L1685.5,633.5 L1687.3,633.9 L1689.2,634.4 L1691.0,634.8 L1692.9,635.2 L1694.7,635.6 L1696.6,636.1 L1698.4,636.5 L1700.3,636.8 L1702.2,637.2 L1704.1,637.6 L1706.0,637.9 L1707.9,638.2 L1709.9,638.5 L1711.8,638.8 L1713.8,639.0 L1715.7,639.2 L1717.7,639.4 L1719.7,639.5 L1721.7,639.6 L1723.8,639.7 L1725.8,639.7 L1727.9,639.7 L1729.9,639.7 L1732.0,639.5 L1734.1,639.4 L1736.3,639.2 L1738.4,638.9 L1740.6,638.6 L1742.7,638.2 L1744.9,637.8 L1747.2,637.3 L1749.4,636.7 L1751.7,636.1 L1754.0,635.4 L1756.3,634.7 L1758.6,633.9 L1761.0,633.1 L1763.4,632.2 L1765.9,631.3 L1768.4,630.3 L1770.9,629.4 L1773.5,628.4 L1776.1,627.3 L1778.7,626.3 L1781.5,625.2 L1784.2,624.1 L1787.1,623.0 L1789.9,621.9 L1792.9,620.8 L1795.9,619.7 L1799.0,618.5 L1802.1,617.4 L1805.3,616.3 L1808.6,615.2 L1811.9,614.1 L1815.3,613.1 L1818.8,612.0 L1822.4,611.0 L1826.0,610.0 L1829.8,609.0 L1833.6,608.1 L1837.5,607.2 L1841.5,606.4 L1845.6,605.6 L1849.8,604.8 L1854.1,604.1 L1858.5,603.4 L1863.0,602.8 L1867.6,602.3 L1872.3,601.8 L1877.1,601.4 L1882.0,601.1 L1887.1,600.8 L1892.2,600.6 L1897.5,600.5" fill="none" stroke="#0000ff" stroke-width="6.8" stroke-linejoin="round"/>
<circle cx="324.5" cy="1270.3" r="15.5" fill="#0000ff"/>
<circle cx="397.4" cy="1132.0" r="15.5" fill="#0000ff"/>
<circle cx="476.4" cy="1112.4" r="15.5" fill="#0000ff"/>
<circle cx="555.4" cy="1073.7" r="15.5" fill="#0000ff"/>
<circle cx="634.3" cy="993.5" r="15.5" fill="#0000ff"/>
<circle cx="713.2" cy="954.5" r="15.5" fill="#0000ff"/>
<circle cx="792.2" cy="875.3" r="15.5" fill="#0000ff"/>
<circle cx="871.1" cy="893.9" r="15.5" fill="#0000ff"/>
<circle cx="950.1" cy="817.7" r="15.5" fill="#0000ff"/>
<circle cx="1029.0" cy="797.1" r="15.5" fill="#0000ff"/>
<circle cx="1108.0" cy="797.0" r="15.5" fill="#0000ff"/>
<circle cx="1186.9" cy="835.6" r="15.5" fill="#0000ff"/>
<circle cx="1265.9" cy="856.1" r="15.5" fill="#0000ff"/>
<circle cx="1344.8" cy="818.0" r="15.5" fill="#0000ff"/>
<circle cx="1423.8" cy="758.5" r="15.5" fill="#0000ff"/>
<circle cx="1502.8" cy="776.8" r="15.5" fill="#0000ff"/>
<circle cx="1581.7" cy="642.0" r="15.5" fill="#0000ff"/>
<circle cx="1660.6" cy="618.0" r="15.5" fill="#0000ff"/>
<circle cx="1739.6" cy="658.5" r="15.5" fill="#0000ff"/>
<circle cx="1818.5" cy="601.5" r="15.5" fill="#0000ff"/>
<circle cx="1897.5" cy="600.5" r="15.5" fill="#0000ff"/>
<path d="M324.5,1055.3 L329.4,1051.3 L334.1,1047.2 L338.8,1043.2 L343.4,1039.1 L347.9,1035.1 L352.3,1031.1 L356.6,1027.1 L360.8,1023.1 L364.9,1019.1 L369.0,1015.2 L372.9,1011.3 L376.8,1007.4 L380.6,1003.5 L384.3,999.6 L388.0,995.8 L391.5,992.0 L395.0,988.3 L398.4,984.5 L401.8,980.9 L405.1,977.2 L408.3,973.6 L411.5,970.1 L414.6,966.5 L417.6,963.1 L420.6,959.7 L423.5,956.3 L426.4,953.0 L429.2,949.7 L432.0,946.5 L434.7,943.4 L437.4,940.3 L440.1,937.3 L442.6,934.3 L445.2,931.5 L447.7,928.7 L450.2,925.9 L452.6,923.2 L455.0,920.7 L457.4,918.1 L459.7,915.7 L462.0,913.4 L464.3,911.1 L466.6,908.9 L468.8,906.8 L471.1,904.8 L473.3,902.9 L475.4,901.0 L477.6,899.3 L479.7,897.6 L481.9,896.1 L484.0,894.6 L486.1,893.1 L488.1,891.8 L490.2,890.5 L492.2,889.3 L494.3,888.1 L496.3,887.0 L498.3,886.0 L500.3,885.1 L502.2,884.2 L504.2,883.3 L506.1,882.5 L508.1,881.8 L510.0,881.1 L511.9,880.4 L513.8,879.8 L515.7,879.3 L517.6,878.8 L519.4,878.3 L521.3,877.8 L523.1,877.4 L525.0,877.0 L526.8,876.7 L528.7,876.4 L530.5,876.1 L532.3,875.8 L534.1,875.5 L535.9,875.3 L537.7,875.1 L539.5,874.8 L541.3,874.6 L543.1,874.5 L544.9,874.3 L546.7,874.1 L548.4,873.9 L550.2,873.7 L552.0,873.5 L553.8,873.4 L555.5,873.2 L557.3,873.0 L559.1,872.7 L560.9,872.5 L562.7,872.3 L564.4,872.1 L566.2,871.8 L568.0,871.6 L569.8,871.3 L571.5,871.0 L573.3,870.8 L575.1,870.5 L576.9,870.2 L578.6,869.9 L580.4,869.6 L582.2,869.3 L584.0,869.0 L585.7,868.7 L587.5,868.3 L589.3,868.0 L591.1,867.7 L592.9,867.3 L594.6,867.0 L596.4,866.6 L598.2,866.2 L600.0,865.9 L601.7,865.5 L603.5,865.1 L605.3,864.7 L607.1,864.4 L608.8,864.0 L610.6,863.6 L612.4,863.2 L614.2,862.8 L615.9,862.4 L617.7,862.0 L619.5,861.6 L621.3,861.1 L623.0,860.7 L624.8,860.3 L626.6,859.9 L628.4,859.5 L630.2,859.0 L631.9,858.6 L633.7,858.2 L635.5,857.7 L637.3,857.3 L639.0,856.9 L640.8,856.4 L642.6,856.0 L644.4,855.6 L646.1,855.1 L647.9,854.7 L649.7,854.2 L651.5,853.8 L653.2,853.3 L655.0,852.9 L656.8,852.4 L658.6,852.0 L660.4,851.5 L662.1,851.1 L663.9,850.6 L665.7,850.2 L667.5,849.7 L669.2,849.2 L671.0,848.8 L672.8,848.3 L674.6,847.9 L676.3,847.4 L678.1,846.9 L679.9,846.5 L681.7,846.0 L683.4,845.5 L685.2,845.1 L687.0,844.6 L688.8,844.1 L690.6,843.7 L692.3,843.2 L694.1,842.7 L695.9,842.2 L697.7,841.8 L699.4,841.3 L701.2,840.8 L703.0,840.3 L704.8,839.9 L706.5,839.4 L708.3,838.9 L710.1,838.4 L711.9,838.0 L713.6,837.5 L715.4,837.0 L717.2,836.5 L719.0,836.0 L720.8,835.6 L722.5,835.1 L724.3,834.6 L726.1,834.1 L727.9,833.6 L729.6,833.2 L731.4,832.7 L733.2,832.2 L735.0,831.7 L736.7,831.3 L738.5,830.8 L740.3,830.3 L742.1,829.8 L743.8,829.3 L745.6,828.9 L747.4,828.4 L749.2,827.9 L750.9,827.4 L752.7,827.0 L754.5,826.5 L756.3,826.0 L758.1,825.6 L759.8,825.1 L761.6,824.6 L763.4,824.1 L765.2,823.7 L766.9,823.2 L768.7,822.8 L770.5,822.3 L772.3,821.8 L774.0,821.4 L775.8,820.9 L777.6,820.5 L779.4,820.0 L781.1,819.5 L782.9,819.1 L784.7,818.6 L786.5,818.2 L788.3,817.8 L790.0,817.3 L791.8,816.9 L793.6,816.4 L795.4,816.0 L797.1,815.5 L798.9,815.1 L800.7,814.7 L802.5,814.2 L804.2,813.8 L806.0,813.4 L807.8,812.9 L809.6,812.5 L811.3,812.1 L813.1,811.6 L814.9,811.2 L816.7,810.8 L818.5,810.3 L820.2,809.9 L822.0,809.4 L823.8,809.0 L825.6,808.5 L827.3,808.1 L829.1,807.6 L830.9,807.1 L832.7,806.7 L834.4,806.2 L836.2,805.7 L838.0,805.2 L839.8,804.7 L841.5,804.2 L843.3,803.7 L845.1,803.2 L846.9,802.7 L848.6,802.2 L850.4,801.7 L852.2,801.1 L854.0,800.6 L855.8,800.0 L857.5,799.5 L859.3,798.9 L861.1,798.3 L862.9,797.7 L864.6,797.1 L866.4,796.5 L868.2,795.9 L870.0,795.3 L871.7,794.6 L873.5,794.0 L875.3,793.3 L877.1,792.7 L878.8,792.0 L880.6,791.3 L882.4,790.6 L884.2,789.9 L886.0,789.2 L887.7,788.4 L889.5,787.7 L891.3,787.0 L893.1,786.2 L894.8,785.5 L896.6,784.7 L898.4,784.0 L900.2,783.2 L901.9,782.5 L903.7,781.7 L905.5,780.9 L907.3,780.2 L909.0,779.4 L910.8,778.6 L912.6,777.8 L914.4,777.1 L916.2,776.3 L917.9,775.5 L919.7,774.8 L921.5,774.0 L923.3,773.2 L925.0,772.5 L926.8,771.7 L928.6,771.0 L930.4,770.2 L932.1,769.5 L933.9,768.7 L935.7,768.0 L937.5,767.3 L939.2,766.5 L941.0,765.8 L942.8,765.1 L944.6,764.4 L946.3,763.7 L948.1,763.0 L949.9,762.4 L951.7,761.7 L953.5,761.1 L955.2,760.4 L957.0,759.8 L958.8,759.2 L960.6,758.6 L962.3,757.9 L964.1,757.4 L965.9,756.8 L967.7,756.2 L969.4,755.6 L971.2,755.1 L973.0,754.5 L974.8,754.0 L976.5,753.5 L978.3,753.0 L980.1,752.5 L981.9,752.0 L983.7,751.5 L985.4,751.0 L987.2,750.6 L989.0,750.1 L990.8,749.7 L992.5,749.2 L994.3,748.8 L996.1,748.4 L997.9,748.0 L999.6,747.6 L1001.4,747.2 L1003.2,746.9 L1005.0,746.5 L1006.7,746.2 L1008.5,745.8 L1010.3,745.5 L1012.1,745.2 L1013.9,744.8 L1015.6,744.5 L1017.4,744.3 L1019.2,744.0 L1021.0,743.7 L1022.7,743.4 L1024.5,743.2 L1026.3,742.9 L1028.1,742.7 L1029.8,742.5 L1031.6,742.3 L1033.4,742.1 L1035.2,741.9 L1036.9,741.7 L1038.7,741.5 L1040.5,741.4 L1042.3,741.2 L1044.1,741.1 L1045.8,740.9 L1047.6,740.8 L1049.4,740.7 L1051.2,740.6 L1052.9,740.5 L1054.7,740.4 L1056.5,740.4 L1058.3,740.3 L1060.0,740.2 L1061.8,740.2 L1063.6,740.2 L1065.4,740.2 L1067.1,740.1 L1068.9,740.1 L1070.7,740.2 L1072.5,740.2 L1074.2,740.2 L1076.0,740.3 L1077.8,740.3 L1079.6,740.4 L1081.4,740.4 L1083.1,740.5 L1084.9,740.6 L1086.7,740.7 L1088.5,740.8 L1090.2,741.0 L1092.0,741.1 L1093.8,741.2 L1095.6,741.4 L1097.3,741.6 L1099.1,741.8 L1100.9,741.9 L1102.7,742.1 L1104.4,742.3 L1106.2,742.6 L1108.0,742.8 L1109.8,743.0 L1111.6,743.3 L1113.3,743.6 L1115.1,743.8 L1116.9,744.1 L1118.7,744.4 L1120.4,744.7 L1122.2,745.0 L1124.0,745.3 L1125.8,745.6 L1127.5,746.0 L1129.3,746.3 L1131.1,746.7 L1132.9,747.0 L1134.6,747.4 L1136.4,747.8 L1138.2,748.1 L1140.0,748.5 L1141.8,748.9 L1143.5,749.3 L1145.3,749.7 L1147.1,750.1 L1148.9,750.5 L1150.6,750.9 L1152.4,751.3 L1154.2,751.7 L1156.0,752.2 L1157.7,752.6 L1159.5,753.0 L1161.3,753.4 L1163.1,753.9 L1164.8,754.3 L1166.6,754.7 L1168.4,755.2 L1170.2,755.6 L1171.9,756.1 L1173.7,756.5 L1175.5,757.0 L1177.3,757.4 L1179.1,757.8 L1180.8,758.3 L1182.6,758.7 L1184.4,759.2 L1186.2,759.6 L1187.9,760.0 L1189.7,760.5 L1191.5,760.9 L1193.3,761.3 L1195.0,761.8 L1196.8,762.2 L1198.6,762.6 L1200.4,763.0 L1202.1,763.4 L1203.9,763.8 L1205.7,764.2 L1207.5,764.6 L1209.3,765.0 L1211.0,765.4 L1212.8,765.7 L1214.6,766.1 L1216.4,766.4 L1218.1,766.7 L1219.9,767.0 L1221.7,767.3 L1223.5,767.6 L1225.2,767.9 L1227.0,768.1 L1228.8,768.4 L1230.6,768.6 L1232.3,768.8 L1234.1,769.0 L1235.9,769.2 L1237.7,769.3 L1239.5,769.5 L1241.2,769.6 L1243.0,769.7 L1244.8,769.7 L1246.6,769.8 L1248.3,769.8 L1250.1,769.8 L1251.9,769.8 L1253.7,769.8 L1255.4,769.7 L1257.2,769.6 L1259.0,769.5 L1260.8,769.4 L1262.5,769.2 L1264.3,769.0 L1266.1,768.8 L1267.9,768.5 L1269.7,768.2 L1271.4,767.9 L1273.2,767.6 L1275.0,767.2 L1276.8,766.8 L1278.5,766.4 L1280.3,766.0 L1282.1,765.5 L1283.9,765.0 L1285.6,764.5 L1287.4,763.9 L1289.2,763.4 L1291.0,762.8 L1292.7,762.2 L1294.5,761.5 L1296.3,760.9 L1298.1,760.2 L1299.8,759.5 L1301.6,758.8 L1303.4,758.0 L1305.2,757.3 L1307.0,756.5 L1308.7,755.7 L1310.5,754.9 L1312.3,754.0 L1314.1,753.2 L1315.8,752.3 L1317.6,751.4 L1319.4,750.5 L1321.2,749.6 L1322.9,748.7 L1324.7,747.7 L1326.5,746.7 L1328.3,745.8 L1330.0,744.8 L1331.8,743.8 L1333.6,742.7 L1335.4,741.7 L1337.2,740.6 L1338.9,739.6 L1340.7,738.5 L1342.5,737.4 L1344.3,736.3 L1346.0,735.2 L1347.8,734.1 L1349.6,733.0 L1351.4,731.9 L1353.1,730.7 L1354.9,729.6 L1356.7,728.4 L1358.5,727.3 L1360.2,726.1 L1362.0,724.9 L1363.8,723.8 L1365.6,722.6 L1367.4,721.4 L1369.1,720.2 L1370.9,719.1 L1372.7,717.9 L1374.5,716.7 L1376.2,715.5 L1378.0,714.3 L1379.8,713.2 L1381.6,712.0 L1383.3,710.8 L1385.1,709.6 L1386.9,708.5 L1388.7,707.3 L1390.4,706.2 L1392.2,705.0 L1394.0,703.9 L1395.8,702.8 L1397.5,701.7 L1399.3,700.5 L1401.1,699.4 L1402.9,698.4 L1404.7,697.3 L1406.4,696.2 L1408.2,695.2 L1410.0,694.1 L1411.8,693.1 L1413.5,692.1 L1415.3,691.1 L1417.1,690.1 L1418.9,689.2 L1420.6,688.2 L1422.4,687.3 L1424.2,686.4 L1426.0,685.5 L1427.7,684.6 L1429.5,683.7 L1431.3,682.9 L1433.1,682.1 L1434.9,681.3 L1436.6,680.5 L1438.4,679.7 L1440.2,679.0 L1442.0,678.2 L1443.7,677.5 L1445.5,676.7 L1447.3,676.0 L1449.1,675.3 L1450.8,674.6 L1452.6,674.0 L1454.4,673.3 L1456.2,672.6 L1457.9,672.0 L1459.7,671.3 L1461.5,670.7 L1463.3,670.1 L1465.1,669.4 L1466.8,668.8 L1468.6,668.2 L1470.4,667.6 L1472.2,666.9 L1473.9,666.3 L1475.7,665.7 L1477.5,665.1 L1479.3,664.5 L1481.0,663.9 L1482.8,663.3 L1484.6,662.7 L1486.4,662.1 L1488.1,661.5 L1489.9,660.8 L1491.7,660.2 L1493.5,659.6 L1495.2,659.0 L1497.0,658.3 L1498.8,657.7 L1500.6,657.1 L1502.4,656.4 L1504.1,655.7 L1505.9,655.1 L1507.7,654.4 L1509.5,653.7 L1511.2,653.0 L1513.0,652.3 L1514.8,651.6 L1516.6,650.9 L1518.3,650.2 L1520.1,649.5 L1521.9,648.8 L1523.7,648.1 L1525.4,647.4 L1527.2,646.8 L1529.0,646.1 L1530.8,645.4 L1532.6,644.7 L1534.3,644.0 L1536.1,643.4 L1537.9,642.7 L1539.7,642.0 L1541.4,641.4 L1543.2,640.8 L1545.0,640.2 L1546.8,639.5 L1548.5,638.9 L1550.3,638.4 L1552.1,637.8 L1553.9,637.2 L1555.6,636.7 L1557.4,636.2 L1559.2,635.7 L1561.0,635.2 L1562.8,634.7 L1564.5,634.3 L1566.3,633.9 L1568.1,633.5 L1569.9,633.1 L1571.6,632.7 L1573.4,632.4 L1575.2,632.1 L1577.0,631.8 L1578.7,631.6 L1580.5,631.3 L1582.3,631.2 L1584.1,631.0 L1585.8,630.8 L1587.6,630.7 L1589.4,630.6 L1591.2,630.6 L1593.0,630.5 L1594.7,630.5 L1596.5,630.5 L1598.3,630.5 L1600.1,630.6 L1601.8,630.6 L1603.6,630.7 L1605.4,630.8 L1607.2,630.8 L1608.9,630.9 L1610.7,631.0 L1612.5,631.1 L1614.3,631.3 L1616.0,631.4 L1617.8,631.5 L1619.6,631.6 L1621.4,631.8 L1623.1,631.9 L1624.9,632.0 L1626.7,632.2 L1628.5,632.3 L1630.3,632.4 L1632.0,632.5 L1633.8,632.6 L1635.6,632.7 L1637.4,632.7 L1639.1,632.8 L1640.9,632.9 L1642.7,632.9 L1644.5,632.9 L1646.2,632.9 L1648.0,632.9 L1649.8,632.8 L1651.6,632.8 L1653.3,632.7 L1655.1,632.6 L1656.9,632.4 L1658.7,632.3 L1660.5,632.1 L1662.2,631.9 L1664.0,631.6 L1665.8,631.3 L1667.6,631.0 L1669.3,630.7 L1671.1,630.3 L1672.9,629.9 L1674.7,629.5 L1676.5,629.1 L1678.3,628.7 L1680.1,628.2 L1681.9,627.7 L1683.7,627.2 L1685.5,626.6 L1687.3,626.1 L1689.2,625.5 L1691.0,624.9 L1692.9,624.4 L1694.7,623.7 L1696.6,623.1 L1698.4,622.5 L1700.3,621.9 L1702.2,621.2 L1704.1,620.5 L1706.0,619.9 L1707.9,619.2 L1709.9,618.5 L1711.8,617.8 L1713.8,617.1 L1715.7,616.4 L1717.7,615.8 L1719.7,615.1 L1721.7,614.4 L1723.8,613.7 L1725.8,613.0 L1727.9,612.3 L1729.9,611.6 L1732.0,610.9 L1734.1,610.2 L1736.3,609.6 L1738.4,608.9 L1740.6,608.2 L1742.7,607.6 L1744.9,607.0 L1747.2,606.3 L1749.4,605.7 L1751.7,605.1 L1754.0,604.5 L1756.3,603.9 L1758.6,603.3 L1761.0,602.7 L1763.4,602.1 L1765.9,601.4 L1768.4,600.8 L1770.9,600.1 L1773.5,599.4 L1776.1,598.7 L1778.7,598.0 L1781.5,597.2 L1784.2,596.4 L1787.1,595.5 L1789.9,594.6 L1792.9,593.7 L1795.9,592.7 L1799.0,591.7 L1802.1,590.6 L1805.3,589.4 L1808.6,588.2 L1811.9,587.0 L1815.3,585.6 L1818.8,584.2 L1822.4,582.8 L1826.0,581.2 L1829.8,579.6 L1833.6,577.9 L1837.5,576.0 L1841.5,574.2 L1845.6,572.2 L1849.8,570.1 L1854.1,567.9 L1858.5,565.6 L1863.0,563.2 L1867.6,560.7 L1872.3,558.1 L1877.1,555.4 L1882.0,552.6 L1887.1,549.6 L1892.2,546.5 L1897.5,543.3" fill="none" stroke="#ff0000" stroke-width="6.8" stroke-linejoin="round"/>
<path d="M324.5,1034.0 L342.5,1066.0 L306.5,1066.0 Z" fill="#ff0000"/>
<path d="M397.4,974.0 L415.4,1006.0 L379.4,1006.0 Z" fill="#ff0000"/>
<path d="M476.4,854.8 L494.4,886.8 L458.4,886.8 Z" fill="#ff0000"/>
<path d="M555.4,854.8 L573.4,886.8 L537.4,886.8 Z" fill="#ff0000"/>
<path d="M634.3,837.3 L652.3,869.3 L616.3,869.3 Z" fill="#ff0000"/>
<path d="M713.2,816.4 L731.2,848.4 L695.2,848.4 Z" fill="#ff0000"/>
<path d="M792.2,794.8 L810.2,826.8 L774.2,826.8 Z" fill="#ff0000"/>
<path d="M871.1,777.2 L889.1,809.2 L853.1,809.2 Z" fill="#ff0000"/>
<path d="M950.1,737.7 L968.1,769.7 L932.1,769.7 Z" fill="#ff0000"/>
<path d="M1029.0,718.0 L1047.0,750.0 L1011.0,750.0 Z" fill="#ff0000"/>
<path d="M1108.0,718.0 L1126.0,750.0 L1090.0,750.0 Z" fill="#ff0000"/>
<path d="M1186.9,739.0 L1204.9,771.0 L1168.9,771.0 Z" fill="#ff0000"/>
<path d="M1265.9,757.0 L1283.9,789.0 L1247.9,789.0 Z" fill="#ff0000"/>
<path d="M1344.8,718.0 L1362.8,750.0 L1326.8,750.0 Z" fill="#ff0000"/>
<path d="M1423.8,659.0 L1441.8,691.0 L1405.8,691.0 Z" fill="#ff0000"/>
<path d="M1502.8,637.6 L1520.8,669.6 L1484.8,669.6 Z" fill="#ff0000"/>
<path d="M1581.7,600.3 L1599.7,632.3 L1563.7,632.3 Z" fill="#ff0000"/>
<path d="M1660.6,620.7 L1678.6,652.7 L1642.6,652.7 Z" fill="#ff0000"/>
<path d="M1739.6,581.5 L1757.6,613.5 L1721.6,613.5 Z" fill="#ff0000"/>
<path d="M1818.5,570.6 L1836.5,602.6 L1800.5,602.6 Z" fill="#ff0000"/>
<path d="M1897.5,522.0 L1915.5,554.0 L1879.5,554.0 Z" fill="#ff0000"/>
</g>
<rect x="464.4" y="143.8" width="3.6" height="290.4" fill="#606060"/>
<rect x="468" y="143.8" width="3.7" height="287.2" fill="#a0a0a0"/>
<rect x="943.8" y="143.8" width="3.4" height="290.4" fill="#888"/>
<rect x="947.2" y="143.8" width="3.4" height="290.4" fill="#7d7d7d"/>
<rect x="467" y="140" width="476.5" height="3.8" fill="#080808"/>
<rect x="471.7" y="143.8" width="472" height="3.4" fill="#f0f0f0"/>
<rect x="468" y="431" width="482.6" height="3.2" fill="#111"/>
<rect x="464.4" y="434.2" width="486" height="3.4" fill="#e6e6e6"/>
<rect x="497" y="185.9" width="194" height="6.8" fill="#000"/>
<rect x="579" y="175.3" width="31" height="28" fill="#000"/>
<rect x="497" y="284.0" width="194" height="6.8" fill="#0000ff"/>
<circle cx="594" cy="288.4" r="15.5" fill="#0000ff"/>
<rect x="497" y="385.70000000000005" width="194" height="6.8" fill="#ff0000"/>
<path d="M594,368.1 L612,399.1 L576,399.1 Z" fill="#ff0000"/>
</svg>
</body></html>
